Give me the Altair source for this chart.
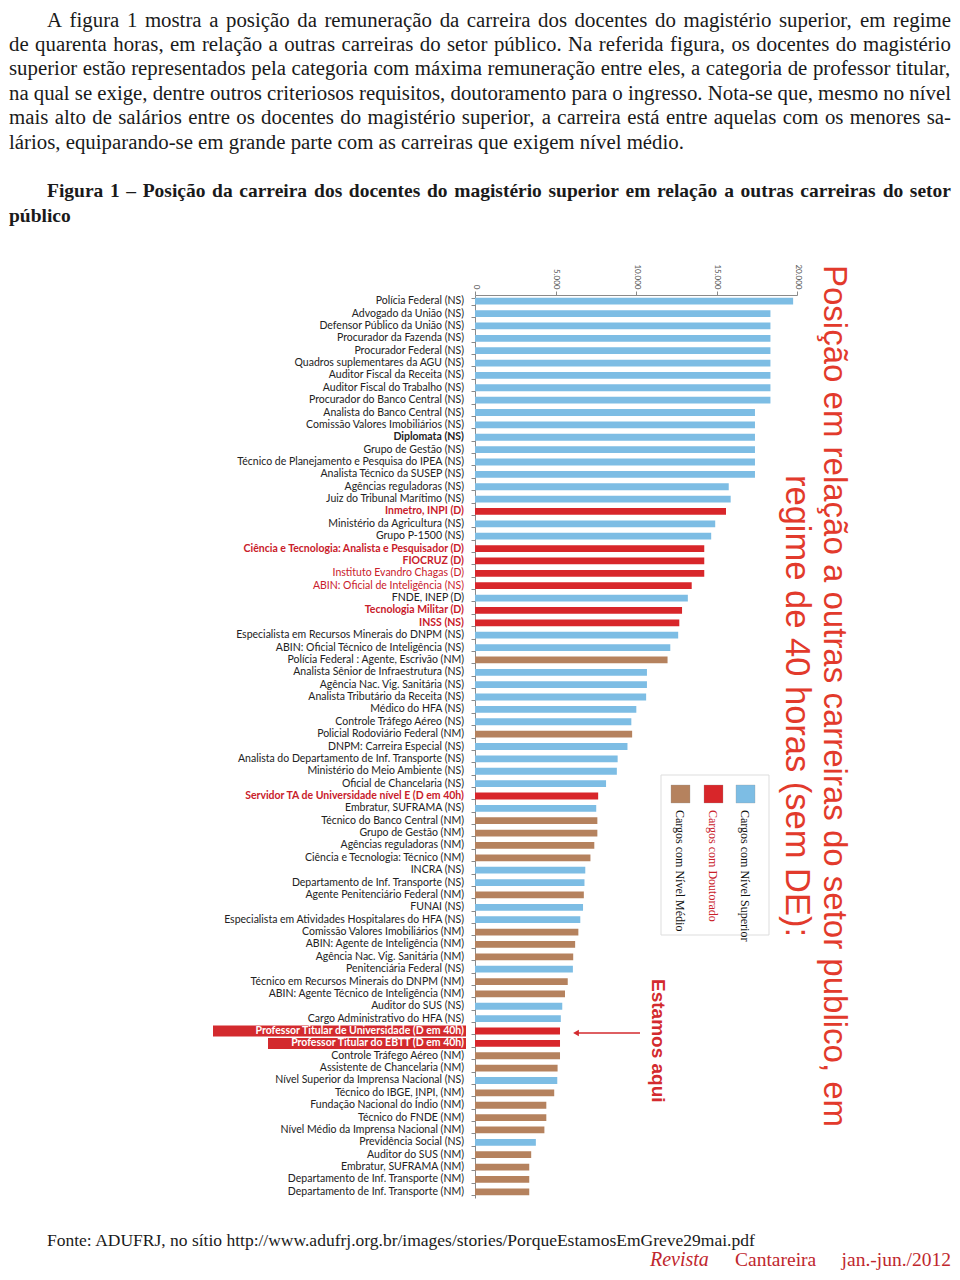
import altair as alt
import pandas as pd
import unicodedata

# ---------------- data ----------------
labels = [
    "Polícia Federal (NS)", "Advogado da União (NS)", "Defensor Público da União (NS)",
    "Procurador da Fazenda (NS)", "Procurador Federal (NS)", "Quadros suplementares da AGU (NS)",
    "Auditor Fiscal da Receita (NS)", "Auditor Fiscal do Trabalho (NS)", "Procurador do Banco Central (NS)",
    "Analista do Banco Central (NS)", "Comissão Valores Imobiliários (NS)", "Diplomata (NS)",
    "Grupo de Gestão (NS)", "Técnico de Planejamento e Pesquisa do IPEA (NS)", "Analista Técnico da SUSEP (NS)",
    "Agências reguladoras (NS)", "Juiz do Tribunal Marítimo (NS)", "Inmetro, INPI (D)",
    "Ministério da Agricultura (NS)", "Grupo P-1500 (NS)", "Ciência e Tecnologia: Analista e Pesquisador (D)",
    "FIOCRUZ (D)", "Instituto Evandro Chagas (D)", "ABIN: Oficial de Inteligência (NS)",
    "FNDE, INEP (D)", "Tecnologia Militar (D)", "INSS (NS)",
    "Especialista em Recursos Minerais do DNPM (NS)", "ABIN: Oficial Técnico de Inteligência (NS)",
    "Polícia Federal : Agente, Escrivão (NM)", "Analista Sênior de Infraestrutura (NS)",
    "Agência Nac. Vig. Sanitária (NS)", "Analista Tributário da Receita (NS)", "Médico do HFA (NS)",
    "Controle Tráfego Aéreo (NS)", "Policial Rodoviário Federal (NM)", "DNPM: Carreira Especial (NS)",
    "Analista do Departamento de Inf. Transporte (NS)", "Ministério do Meio Ambiente (NS)",
    "Oficial de Chancelaria (NS)", "Servidor TA de Universidade nível E (D em 40h)",
    "Embratur, SUFRAMA (NS)", "Técnico do Banco Central (NM)", "Grupo de Gestão (NM)",
    "Agências reguladoras (NM)", "Ciência e Tecnologia: Técnico (NM)", "INCRA (NS)",
    "Departamento de Inf. Transporte (NS)", "Agente Penitenciário Federal (NM)", "FUNAI (NS)",
    "Especialista em Atividades Hospitalares do HFA (NS)", "Comissão Valores Imobiliários (NM)",
    "ABIN: Agente de Inteligência (NM)", "Agência Nac. Vig. Sanitária (NM)", "Penitenciária Federal (NS)",
    "Técnico em Recursos Minerais do DNPM (NM)", "ABIN: Agente Técnico de Inteligência (NM)",
    "Auditor do SUS (NS)", "Cargo Administrativo do HFA (NS)",
    "Professor Titular de Universidade (D em 40h)", "Professor Titular do EBTT (D em 40h)",
    "Controle Tráfego Aéreo (NM)", "Assistente de Chancelaria (NM)",
    "Nível Superior da Imprensa Nacional (NS)", "Técnico do IBGE, INPI, (NM)",
    "Fundação Nacional do Índio (NM)", "Técnico do FNDE (NM)", "Nível Médio da Imprensa Nacional (NM)",
    "Previdência Social (NS)", "Auditor do SUS (NM)", "Embratur, SUFRAMA (NM)",
    "Departamento de Inf. Transporte (NM)", "Departamento de Inf. Transporte (NM)",
]

values = [
    19760, 18350, 18350, 18350, 18350, 18350, 18350, 18350, 18350,
    17390, 17390, 17390, 17390, 17390, 17390,
    15760, 15880, 15590, 14920, 14670, 14240, 14240, 14240, 13460, 13220, 12860, 12690,
    12620, 12130, 11960, 10680, 10680, 10630, 10020, 9710, 9760, 9470,
    8860, 8810, 8140, 7650, 7530, 7600, 7600, 7410, 7170, 6850, 6800,
    6760, 6710, 6540, 6420, 6220, 6100, 6080, 5760, 5590, 5420, 5330,
    5280, 5280, 5280, 5130, 5110, 4920, 4430, 4430, 4310, 3780, 3490, 3370, 3370, 3370,
]

groups = [
    "NS", "NS", "NS", "NS", "NS", "NS", "NS", "NS", "NS",
    "NS", "NS", "NS", "NS", "NS", "NS",
    "NS", "NS", "D", "NS", "NS", "D", "D", "D", "D", "NS", "D", "D",
    "NS", "NS", "NM", "NS", "NS", "NS", "NS", "NS", "NM", "NS",
    "NS", "NS", "NS", "D", "NS", "NM", "NM", "NM", "NM", "NS", "NS",
    "NM", "NS", "NS", "NM", "NM", "NM", "NS", "NM", "NM", "NS", "NS",
    "D", "D", "NM", "NM", "NS", "NM", "NM", "NM", "NM", "NS", "NM", "NM", "NM", "NM",
]

# label styling: k = black, r = red, w = white on red box
label_tone = ["k"] * 73
for i in [17, 20, 21, 22, 23, 25, 26, 40]:
    label_tone[i] = "r"
for i in [59, 60]:
    label_tone[i] = "w"
label_bold = [False] * 73
for i in [11, 17, 20, 21, 25, 26, 40, 59, 60]:
    label_bold[i] = True

group_domain = ["NS", "D", "NM"]
group_colors = ["#7dbde4", "#d8262a", "#b5825e"]
tone_colors = {"k": "#222222", "r": "#c9202a", "w": "#ffffff"}

axis_ticks = [0, 5000, 10000, 15000, 20000]

paragraph = [
    "A figura 1 mostra a posição da remuneração da carreira dos docentes do magistério superior, em regime",
    "de quarenta horas, em relação a outras carreiras do setor público. Na referida figura, os docentes do magistério",
    "superior estão representados pela categoria com máxima remuneração entre eles, a categoria de professor titular,",
    "na qual se exige, dentre outros criteriosos requisitos, doutoramento para o ingresso. Nota-se que, mesmo no nível",
    "mais alto de salários entre os docentes do magistério superior, a carreira está entre aquelas com os menores sa-",
    "lários, equiparando-se em grande parte com as carreiras que exigem nível médio.",
]
fig_title = [
    "Figura 1 – Posição da carreira dos docentes do magistério superior em relação a outras carreiras do setor",
    "público",
]
red_title = [
    "Posição em relação a outras carreiras do setor publico, em",
    "regime de 40 horas (sem DE):",
]
legend_labels = ["Cargos com Nível Superior", "Cargos com Doutorado", "Cargos com Nível Médio"]
source_text = "Fonte: ADUFRJ, no sítio http://www.adufrj.org.br/images/stories/PorqueEstamosEmGreve29mai.pdf"

df = pd.DataFrame({
    "idx": list(range(len(labels))),
    "label": labels,
    "value": values,
    "group": groups,
    "lfill": [tone_colors[t] for t in label_tone],
    "bold": label_bold,
})

# ---------------- text metrics (Times / Liberation Serif advance widths, 1/1000 em) ----------------
_reg = dict(zip("abcdefghijklmnopqrstuvwxyz",
                [444, 500, 444, 500, 444, 333, 500, 500, 278, 278, 500, 278, 778, 500, 500, 500, 500,
                 333, 389, 278, 500, 500, 722, 500, 500, 444]))
_reg.update(zip("ABCDEFGHIJKLMNOPQRSTUVWXYZ",
                [722, 667, 667, 722, 611, 556, 722, 722, 333, 389, 722, 611, 889, 722, 722, 556, 722,
                 667, 556, 611, 722, 722, 944, 722, 722, 611]))
_bold = dict(zip("abcdefghijklmnopqrstuvwxyz",
                 [500, 556, 444, 556, 444, 333, 500, 556, 278, 333, 556, 278, 833, 556, 500, 556, 556,
                  444, 389, 333, 556, 500, 722, 500, 500, 444]))
_bold.update(zip("ABCDEFGHIJKLMNOPQRSTUVWXYZ",
                 [722, 667, 722, 722, 667, 611, 778, 778, 389, 500, 778, 667, 944, 722, 778, 611, 778,
                  722, 556, 667, 722, 722, 1000, 722, 722, 667]))
_punct = {" ": 250, ",": 250, ".": 250, "-": 333, ":": 278, ";": 278, "(": 333, ")": 333,
          "/": 278, "–": 500}


def text_em(s, bold=False):
    table = _bold if bold else _reg
    total = 0
    for ch in s:
        if ch in _punct:
            total += _punct[ch]
            continue
        b = unicodedata.normalize("NFD", ch)[0]
        if b.isdigit():
            total += 500
        else:
            total += table.get(b, 500)
    return total / 1000.0


# ---------------- layout (page px) ----------------
OX, OY = 475, 295          # plot origin on page
W, H = 322, 903
LEFT, RIGHT = 9, 951       # usable text edges on the page


def px(x):
    return x - OX


def py(y):
    return y - OY


ONE = alt.Data(values=[{"a": 1}])


def txt(text, x, y, size, font, color, align="left", baseline="alphabetic",
        weight="normal", style="normal", angle=0):
    return alt.Chart(alt.Data(values=[{"t": text}])).mark_text(
        align=align, baseline=baseline, fontSize=size, font=font, color=color,
        fontWeight=weight, fontStyle=style, angle=angle,
    ).encode(text="t:N", x=alt.value(px(x)), y=alt.value(py(y)))


def justified(line, x0, x1, y, size, font, bold=False):
    words = line.split(" ")
    widths = [text_em(w, bold) * size for w in words]
    gap = (x1 - x0 - sum(widths)) / (len(words) - 1)
    out, x = [], x0
    for w, wd in zip(words, widths):
        out.append(txt(w, x, y, size, font, "#1a1a1a", "left",
                       weight="bold" if bold else "normal"))
        x += wd + gap
    return out


base = alt.Chart(df)

yenc = alt.Y("idx:O", scale=alt.Scale(paddingInner=0.45, paddingOuter=0.225),
             axis=alt.Axis(labels=False, ticks=True, tickBand="extent", tickSize=4,
                           tickColor="#8a8a8a", domainColor="#8a8a8a", title=None))

bars = base.mark_bar().encode(
    x=alt.X("value:Q", scale=alt.Scale(domain=[0, 20000], nice=False),
            axis=alt.Axis(orient="top", values=axis_ticks, labelAngle=90, labelAlign="right",
                          labelBaseline="middle", labelFontSize=8, labelColor="#555555",
                          labelFont="Lato", tickSize=4, tickColor="#8a8a8a",
                          domainColor="#8a8a8a", grid=False, title=None, labelPadding=2,
                          labelExpr="replace(format(datum.value, ','), ',', '.')")),
    y=yenc,
    color=alt.Color("group:N", scale=alt.Scale(domain=group_domain, range=group_colors), legend=None),
)

hl1 = base.transform_filter("datum.idx == 59").mark_bar(height=11, color="#d32a2e").encode(
    y=alt.Y("idx:O"), x=alt.value(px(213)), x2=alt.value(px(466)))
hl2 = base.transform_filter("datum.idx == 60").mark_bar(height=11, color="#d32a2e").encode(
    y=alt.Y("idx:O"), x=alt.value(px(268)), x2=alt.value(px(466)))

LFS = 10.5
lab_norm = base.transform_filter("!datum.bold").mark_text(
    align="right", baseline="middle", fontSize=LFS, font="Lato").encode(
    y=alt.Y("idx:O"), x=alt.value(-11), text="label:N", fill=alt.Fill("lfill:N", scale=None))
lab_bold = base.transform_filter("datum.bold").mark_text(
    align="right", baseline="middle", fontSize=LFS, font="Lato", fontWeight="bold").encode(
    y=alt.Y("idx:O"), x=alt.value(-11), text="label:N", fill=alt.Fill("lfill:N", scale=None))

# legend box (manual, rotated labels)
leg_box = alt.Chart(ONE).mark_rect(fill="white", stroke="#dddddd", strokeWidth=1).encode(
    x=alt.value(px(661)), x2=alt.value(px(769)), y=alt.value(py(775)), y2=alt.value(py(935)))
leg_items = []
leg_x = [745, 713, 680]
leg_text_col = ["#111111", "#c9202a", "#111111"]
for i in range(3):
    leg_items.append(alt.Chart(ONE).mark_rect(color=group_colors[i], stroke="#999999", strokeWidth=0.3).encode(
        x=alt.value(px(leg_x[i] - 9)), x2=alt.value(px(leg_x[i] + 10)),
        y=alt.value(py(785)), y2=alt.value(py(803))))
    leg_items.append(txt(legend_labels[i], leg_x[i], 810, 12, "Liberation Serif", leg_text_col[i],
                         "left", "middle", angle=90))

# arrow
arrow_line = alt.Chart(ONE).mark_rule(color="#d32a2e", strokeWidth=1.6).encode(
    x=alt.value(px(640)), x2=alt.value(px(578)), y=alt.value(py(1033)))
arrow_head = alt.Chart(ONE).mark_point(shape="triangle-left", filled=True, color="#d32a2e",
                                       size=45, opacity=1).encode(
    x=alt.value(px(576)), y=alt.value(py(1033)))

# rotated titles
title_layers = [
    txt(red_title[0], 834, 265, 33, "Liberation Sans", "#e23a2c", "left", "middle", angle=90),
    txt(red_title[1], 796, 475, 34.5, "Liberation Sans", "#e23a2c", "left", "middle", angle=90),
    txt("Estamos aqui", 658, 979, 19, "Liberation Sans", "#d32a2e", "left", "middle",
        weight="bold", angle=90),
]

# page texts
PFONT = "Liberation Serif"
scale_x = (RIGHT - LEFT) / 955.0
PFS = (688 - 3) * scale_x / text_em(paragraph[-1])
page_layers = []
base_y = [26.5, 50.9, 75.3, 99.7, 124.1, 148.5]
for i, line in enumerate(paragraph):
    x0 = 47 if i == 0 else LEFT
    if i < len(paragraph) - 1:
        page_layers += justified(line, x0, RIGHT, base_y[i], PFS, PFONT)
    else:
        page_layers.append(txt(line, x0, base_y[i], PFS, PFONT, "#1a1a1a"))
TFS = 19.5
page_layers += justified(fig_title[0], 47, RIGHT, 197, TFS, PFONT, bold=True)
page_layers.append(txt(fig_title[1], LEFT, 222, TFS, PFONT, "#1a1a1a", weight="bold"))
page_layers.append(txt(source_text, 47, 1246, 17.5, PFONT, "#1a1a1a"))
page_layers.append(txt("Revista", 650, 1266, 20, PFONT, "#c0272d", style="italic"))
page_layers.append(txt("Cantareira", 735, 1266, 19.5, PFONT, "#c0272d"))
page_layers.append(txt("jan.-jun./2012", RIGHT, 1266, 19.5, PFONT, "#c0272d", "right"))

chart = alt.layer(
    bars, hl1, hl2, lab_norm, lab_bold, leg_box, *leg_items, arrow_line, arrow_head,
    *title_layers, *page_layers,
).properties(
    width=W, height=H,
    autosize=alt.AutoSizeParams(type="none"),
    padding={"left": OX - 8, "top": OY - 8, "right": 944 - (OX - 8) - W, "bottom": 1264 - (OY - 8) - H},
    background="white",
).configure_view(stroke=None)

chart.save("out.html", embed_options={"renderer": "svg", "actions": False})
